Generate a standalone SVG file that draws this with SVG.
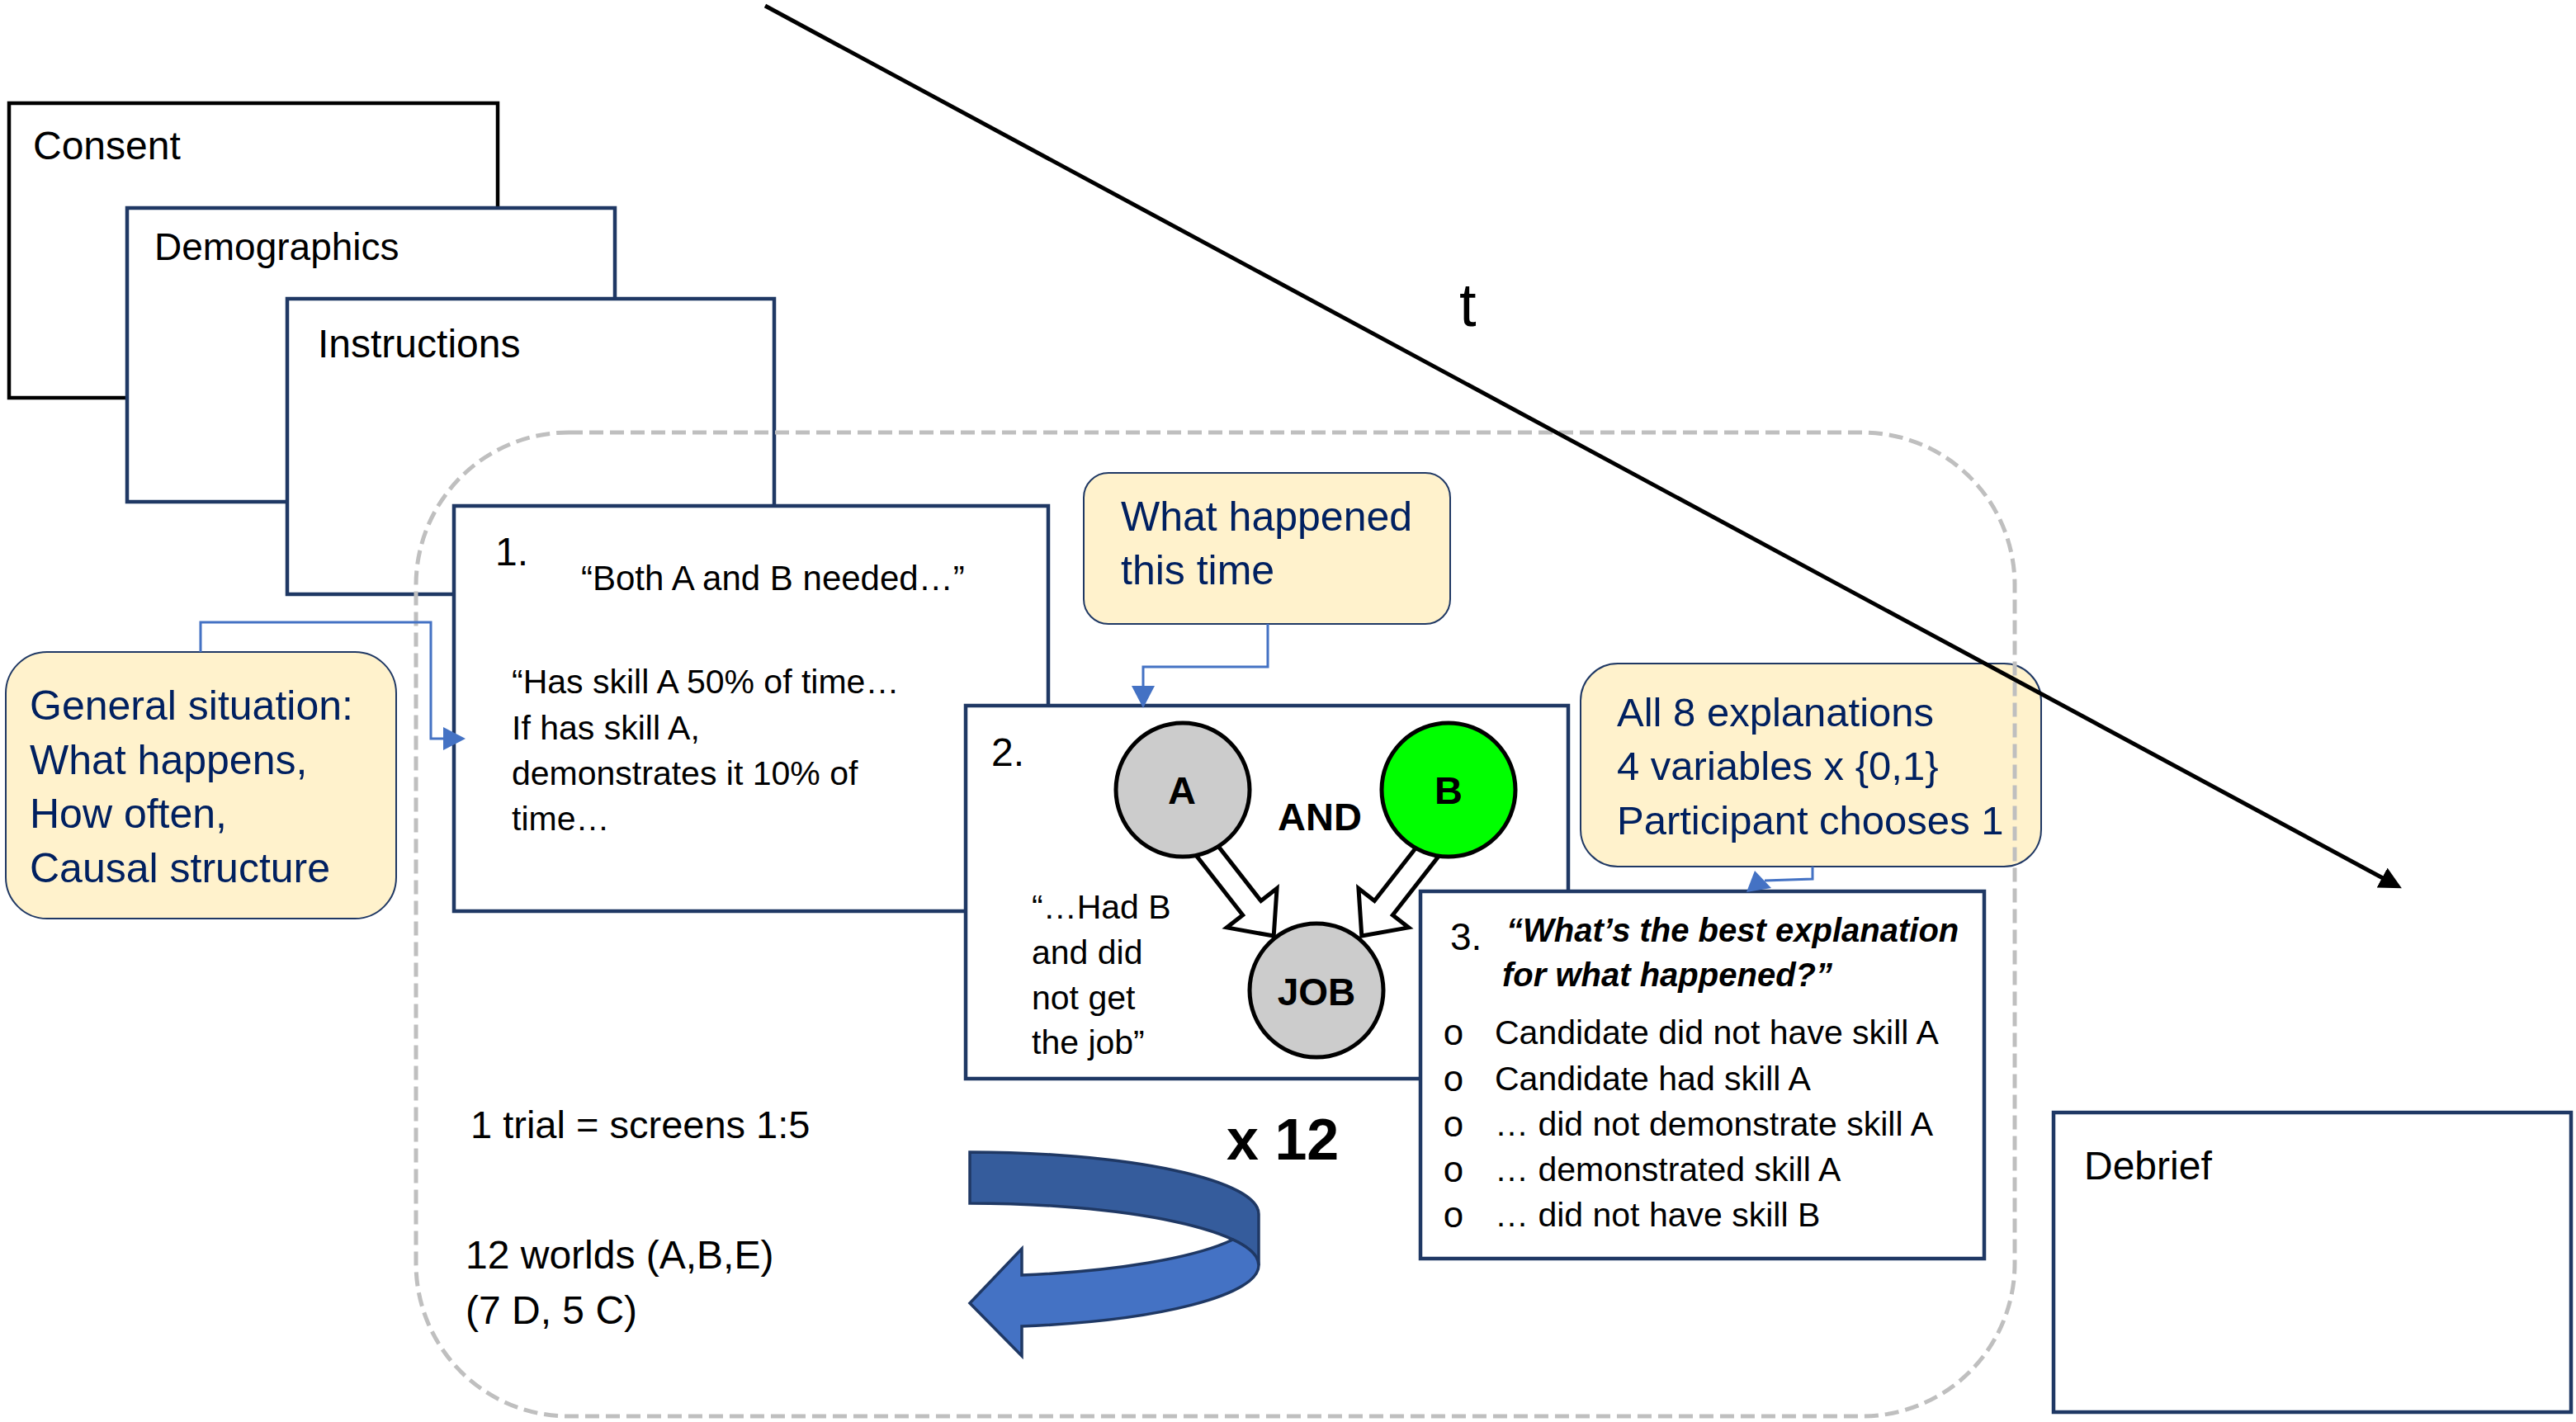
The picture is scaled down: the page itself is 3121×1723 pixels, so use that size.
<svg xmlns="http://www.w3.org/2000/svg" width="3121" height="1723" viewBox="0 0 3121 1723">
<style>
text{font-family:"Liberation Sans",Arial,sans-serif;}
.scr{fill:#fff;stroke:#1F3864;stroke-width:4.5;}
.hdr{font-size:48px;fill:#000;}
.body{font-size:41px;fill:#000;}
.note{fill:#FFF2CC;stroke:#1F3864;stroke-width:2;}
.nt{font-size:50px;fill:#002060;}
.conn{fill:none;stroke:#4472C4;stroke-width:3;}
.head{fill:#4472C4;stroke:none;}
.node{stroke:#000;stroke-width:5;}
.lbl{font-size:46px;font-weight:bold;fill:#000;text-anchor:middle;}
.barr{fill:#fff;stroke:#000;stroke-width:5;stroke-linejoin:miter;}
.bul{font-family:"Liberation Mono","Courier New",monospace;font-size:44px;text-anchor:middle;}
</style>
<defs>
<marker id="tl" viewBox="0 -14 28 28" markerWidth="28" markerHeight="28" refX="1" refY="0" orient="auto" markerUnits="userSpaceOnUse">
<path d="M0,-13.5 L27,0 L0,13.5 Z" fill="#000"/>
</marker>
</defs>
<rect width="3121" height="1723" fill="#fff"/>

<g id="consent">
<rect x="11" y="125" width="592" height="357" fill="#fff" stroke="#000" stroke-width="4.5"/>
<text class="hdr" x="40" y="193">Consent</text>
</g>
<g id="demographics">
<rect class="scr" x="154" y="252" width="591" height="356"/>
<text class="hdr" x="187" y="315" style="font-size:46px">Demographics</text>
</g>
<g id="instructions">
<rect class="scr" x="348" y="362" width="590" height="358"/>
<text class="hdr" x="385" y="433">Instructions</text>
</g>

<g id="screen1">
<rect class="scr" x="550" y="613" width="720" height="491"/>
<text class="hdr" x="600" y="685">1.</text>
<text class="body" x="704" y="715" style="font-size:42px">“Both A and B needed…”</text>
<text class="body" x="620" y="840">“Has skill A 50% of time…</text>
<text class="body" x="620" y="896">If has skill A,</text>
<text class="body" x="620" y="951">demonstrates it 10% of</text>
<text class="body" x="620" y="1006">time…</text>
</g>

<g id="screen2">
<rect class="scr" x="1170" y="855" width="730" height="452"/>
<text class="hdr" x="1201" y="928">2.</text>
<text class="body" x="1250" y="1113">“…Had B</text>
<text class="body" x="1250" y="1168">and did</text>
<text class="body" x="1250" y="1223">not get</text>
<text class="body" x="1250" y="1277">the job”</text>
<polygon class="barr" transform="translate(1465,1034) rotate(52)" points="-12,-14 84,-14 84,-38.5 127,0 84,38.5 84,14 -12,14"/>
<polygon class="barr" transform="translate(1728,1034) rotate(128)" points="-12,-14 84,-14 84,-38.5 127,0 84,38.5 84,14 -12,14"/>
<g id="nodeA"><circle class="node" cx="1433" cy="957" r="81" fill="#CCCCCC"/><text class="lbl" x="1432" y="974" style="font-size:47px">A</text></g>
<g id="nodeB"><circle class="node" cx="1755" cy="957" r="81" fill="#00FF00"/><text class="lbl" x="1755" y="974" style="font-size:47px">B</text></g>
<g id="nodeJOB"><circle class="node" cx="1595" cy="1200" r="81" fill="#CCCCCC"/><text class="lbl" x="1595" y="1218">JOB</text></g>
<text class="lbl" x="1599" y="1006" style="font-size:47px">AND</text>
</g>

<g id="screen3">
<rect class="scr" x="1721" y="1080" width="683" height="445"/>
<text class="hdr" x="1757" y="1151" style="font-size:46px">3.</text>
<text x="1825" y="1141" style="font-size:40px;font-weight:bold;font-style:italic">“What’s the best explanation</text>
<text x="1820" y="1195" style="font-size:40px;font-weight:bold;font-style:italic">for what happened?”</text>
<text class="bul" x="1761" y="1266">o</text>
<text class="bul" x="1761" y="1322">o</text>
<text class="bul" x="1761" y="1377">o</text>
<text class="bul" x="1761" y="1432">o</text>
<text class="bul" x="1761" y="1487">o</text>
<text class="body" x="1811" y="1265">Candidate did not have skill A</text>
<text class="body" x="1811" y="1321">Candidate had skill A</text>
<text class="body" x="1811" y="1376">… did not demonstrate skill A</text>
<text class="body" x="1811" y="1431">… demonstrated skill A</text>
<text class="body" x="1811" y="1486">… did not have skill B</text>
</g>

<g id="debrief">
<rect class="scr" x="2488" y="1348" width="627" height="363"/>
<text class="hdr" x="2525" y="1429">Debrief</text>
</g>

<g id="note-what-happened">
<rect class="note" x="1313" y="573" width="444" height="183" rx="30"/>
<text class="nt" x="1358" y="643">What happened</text>
<text class="nt" x="1358" y="708">this time</text>
</g>
<g id="note-general">
<rect class="note" x="7" y="790" width="473" height="323" rx="50"/>
<text class="nt" x="36" y="872">General situation:</text>
<text class="nt" x="36" y="938">What happens,</text>
<text class="nt" x="36" y="1003">How often,</text>
<text class="nt" x="36" y="1069">Causal structure</text>
</g>
<g id="note-explanations">
<rect class="note" x="1915" y="804" width="558" height="246" rx="45"/>
<text class="nt" x="1959" y="880" style="font-size:49px">All 8 explanations</text>
<text class="nt" x="1959" y="945" style="font-size:49px">4 variables x {0,1}</text>
<text class="nt" x="1959" y="1011" style="font-size:49px">Participant chooses 1</text>
</g>

<g id="trial-loop">
<rect x="504" y="524" width="1937" height="1192" rx="185" fill="none" stroke="#BFBFBF" stroke-width="5" stroke-dasharray="17 8"/>
<text x="570" y="1379" style="font-size:47px">1 trial = screens 1:5</text>
<text x="564" y="1537" style="font-size:48px">12 worlds (A,B,E)</text>
<text x="564" y="1604" style="font-size:48px">(7 D, 5 C)</text>
<text x="1486" y="1405" style="font-size:70px;font-weight:bold">x 12</text>
<g id="repeat-arrow" stroke="#1F3864" stroke-width="3.5" stroke-linejoin="miter">
<path d="M1175,1396 A350,75 0 0,1 1525,1471 L1525,1533 A350,75 0 0,0 1175,1458 Z" fill="#355C9C"/>
<path d="M1238,1545 A350,75 0 0,0 1493.7,1502 A350,75 0 0,1 1525,1533 A350,75 0 0,1 1238,1607 L1238,1643 L1175,1579 L1238,1513 Z" fill="#4472C4"/>
</g>
</g>

<g id="connectors">
<path class="conn" d="M243,790 V754 H522 V895 H540"/>
<polygon class="head" points="564,895 537,881 537,909"/>
<path class="conn" d="M1536,756 V808 H1385 V834"/>
<polygon class="head" points="1385,858 1371,831 1399,831"/>
<path class="conn" d="M2196,1050 V1065 L2138,1067"/>
<polygon class="head" points="2116,1081 2126,1055 2146,1076"/>
<path d="M927,7 L2887,1064" fill="none" stroke="#000" stroke-width="5" marker-end="url(#tl)"/>
</g>
<text x="1768" y="395" style="font-size:74px">t</text>
</svg>
